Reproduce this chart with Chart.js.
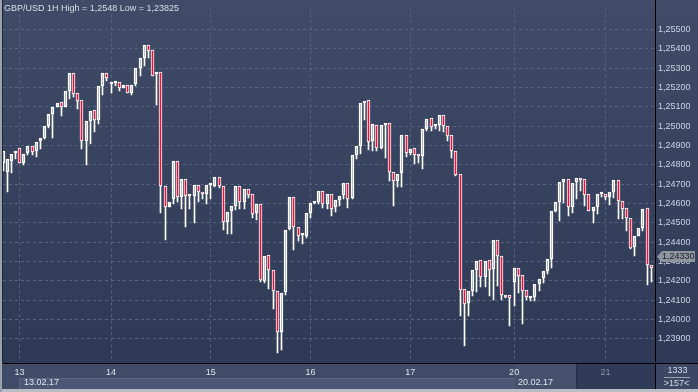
<!DOCTYPE html>
<html>
<head>
<meta charset="utf-8">
<script src="https://cdn.jsdelivr.net/npm/chart.js@4.4.0/dist/chart.umd.min.js"></script>
<style>
html, body { margin: 0; padding: 0; background: #2d3954; }
#wrap { width: 698px; height: 392px; }
</style>
</head>
<body>
<div id="wrap"><canvas id="myChart" width="698" height="392"></canvas></div>
<script>
// GBP/USD hourly candles
var opens = [
  1.2481, 1.24765, 1.2482, 1.2486, 1.2489, 1.2481, 1.2486, 1.2490, 1.2487, 1.24925,
  1.2494, 1.2500, 1.25065, 1.2510, 1.25125, 1.2510, 1.25185, 1.25275, 1.2517, 1.25135,
  1.24925, 1.25025, 1.25085, 1.25035, 1.2521, 1.25275, 1.2522, 1.25225, 1.2523, 1.2520,
  1.25215, 1.2517, 1.2522, 1.2530, 1.25355, 1.2542, 1.25395, 1.2527, 1.2528, 1.2469,
  1.2458, 1.24625, 1.2482, 1.24635, 1.24725, 1.2464, 1.2464, 1.24695, 1.2466, 1.2465,
  1.24695, 1.2469, 1.2474, 1.24689, 1.24507, 1.2456, 1.2459, 1.2469, 1.2461, 1.24675,
  1.2465, 1.2455, 1.2460, 1.2420, 1.24335, 1.24255, 1.2415, 1.23935, 1.24142, 1.24468,
  1.24635, 1.2448, 1.24435, 1.24432, 1.2455, 1.24603, 1.2461, 1.24665, 1.2460, 1.24652,
  1.24581, 1.24618, 1.24643, 1.24707, 1.24627, 1.24849, 1.24896, 1.2512, 1.25137, 1.24925,
  1.25009, 1.24888, 1.25005, 1.25019, 1.24761, 1.24719, 1.24756, 1.24955, 1.24861, 1.24888,
  1.24857, 1.24845, 1.24985, 1.25044, 1.25001, 1.25009, 1.25058, 1.25004, 1.24954, 1.24873,
  1.24755, 1.2416, 1.24085, 1.2415, 1.24256, 1.24307, 1.2422, 1.24307, 1.24261, 1.24414,
  1.24329, 1.24125, 1.24125, 1.24194, 1.24268, 1.24229, 1.24155, 1.24113, 1.24118, 1.24182,
  1.24214, 1.24251, 1.24312, 1.2456, 1.24606, 1.24712, 1.24729, 1.24582, 1.24712, 1.24734,
  1.24729, 1.24648, 1.2456, 1.2458, 1.24649, 1.2465, 1.24633, 1.24662, 1.24724, 1.24614,
  1.24575, 1.24523, 1.24377, 1.24432, 1.24473, 1.24578, 1.2428
];
var highs = [
  1.2494, 1.2484, 1.2489, 1.2490, 1.2490, 1.24945, 1.2492, 1.2493, 1.24925, 1.24965,
  1.2502, 1.25135, 1.2525, 1.2540, 1.2519, 1.2524, 1.2531, 1.2539, 1.25245, 1.2514,
  1.2503, 1.2513, 1.2512, 1.2521, 1.2532, 1.2532, 1.25295, 1.2526, 1.2527, 1.2528,
  1.2525, 1.2523, 1.25305, 1.2539, 1.2548, 1.2547, 1.2541, 1.2536, 1.25325, 1.24805,
  1.2476, 1.2491, 1.2488, 1.2476, 1.2486, 1.2477, 1.2475, 1.2475, 1.2474, 1.2472,
  1.2472, 1.2476, 1.2475, 1.2469, 1.24583, 1.2460, 1.2471, 1.2471, 1.2469, 1.2469,
  1.2465, 1.24637, 1.24642, 1.24364, 1.24355, 1.24266, 1.2415, 1.2443, 1.2466, 1.24805,
  1.2464, 1.24533, 1.2449, 1.2460, 1.24617, 1.24642, 1.24695, 1.24685, 1.2468, 1.24706,
  1.24643, 1.24664, 1.24728, 1.24728, 1.24879, 1.24918, 1.25187, 1.25233, 1.25148, 1.25086,
  1.25177, 1.25073, 1.25064, 1.25019, 1.24812, 1.24773, 1.25005, 1.25009, 1.2491, 1.24946,
  1.24879, 1.25005, 1.25101, 1.25056, 1.2506, 1.2508, 1.25065, 1.25041, 1.24974, 1.24984,
  1.24772, 1.2418, 1.2420, 1.2429, 1.2432, 1.24366, 1.24352, 1.24366, 1.2450, 1.24441,
  1.24349, 1.2424, 1.24228, 1.24399, 1.2429, 1.2424, 1.24172, 1.24145, 1.24199, 1.24215,
  1.24273, 1.24386, 1.24572, 1.24819, 1.24717, 1.24754, 1.24735, 1.24721, 1.2478, 1.24763,
  1.24746, 1.24653, 1.24602, 1.24662, 1.24667, 1.24667, 1.2467, 1.24741, 1.24808, 1.24614,
  1.24594, 1.24526, 1.24437, 1.24473, 1.24584, 1.24584, 1.24346
];
var lows = [
  1.2477, 1.2466, 1.2476, 1.2483, 1.2481, 1.2480, 1.2485, 1.2485, 1.2484, 1.2488,
  1.24935, 1.2499, 1.2494, 1.2510, 1.25055, 1.2510, 1.2514, 1.2515, 1.2509, 1.2488,
  1.2480, 1.2491, 1.2497, 1.2501, 1.2516, 1.25235, 1.2517, 1.2521, 1.2518, 1.2520,
  1.2517, 1.2516, 1.2521, 1.2526, 1.2531, 1.25355, 1.2526, 1.2511, 1.2455, 1.2441,
  1.24598, 1.2460, 1.2461, 1.2457, 1.2448, 1.2457, 1.2450, 1.2461, 1.24625, 1.2460,
  1.24625, 1.24685, 1.2468, 1.24465, 1.24445, 1.24445, 1.24566, 1.2457, 1.2457, 1.2463,
  1.24524, 1.24516, 1.24192, 1.2419, 1.24157, 1.24056, 1.23825, 1.2384, 1.24128, 1.24465,
  1.2436, 1.24406, 1.2439, 1.2442, 1.24524, 1.24598, 1.2460, 1.24575, 1.24573, 1.24537,
  1.24556, 1.24588, 1.24622, 1.24576, 1.24623, 1.24829, 1.24857, 1.25031, 1.24879, 1.24874,
  1.24874, 1.2488, 1.24837, 1.24716, 1.24588, 1.24686, 1.24686, 1.2484, 1.24849, 1.24807,
  1.24808, 1.24778, 1.24975, 1.24975, 1.24984, 1.24976, 1.24971, 1.24924, 1.24836, 1.24744,
  1.24016, 1.23865, 1.24016, 1.24122, 1.24144, 1.24167, 1.24167, 1.24122, 1.24101, 1.24173,
  1.2410, 1.24113, 1.23966, 1.24072, 1.24139, 1.23975, 1.2410, 1.24095, 1.24097, 1.2415,
  1.24189, 1.24234, 1.24265, 1.24555, 1.2451, 1.24602, 1.24535, 1.24552, 1.24624, 1.24667,
  1.2459, 1.2456, 1.24501, 1.24547, 1.24636, 1.24616, 1.24594, 1.24628, 1.24521, 1.24518,
  1.24459, 1.24366, 1.24331, 1.24432, 1.24457, 1.2418, 1.24195
];
var closes = [
  1.2487, 1.2483, 1.24855, 1.2487, 1.2481, 1.24855, 1.2490, 1.24865, 1.2492, 1.2494,
  1.2500, 1.25065, 1.2510, 1.2512, 1.2510, 1.2518, 1.25275, 1.25165, 1.2513, 1.24925,
  1.25025, 1.2508, 1.25035, 1.2521, 1.25275, 1.2525, 1.2523, 1.2523, 1.2520, 1.25215,
  1.2517, 1.25215, 1.2530, 1.25355, 1.2542, 1.2539, 1.2526, 1.2528, 1.2469, 1.2458,
  1.2461, 1.2482, 1.24635, 1.24725, 1.2464, 1.24645, 1.24695, 1.2466, 1.2465, 1.24695,
  1.2470, 1.2474, 1.2469, 1.24507, 1.24558, 1.2459, 1.2469, 1.2461, 1.24675, 1.24645,
  1.24548, 1.2460, 1.24202, 1.2433, 1.24255, 1.24148, 1.23935, 1.24137, 1.24465, 1.24635,
  1.2448, 1.24432, 1.2444, 1.2455, 1.24603, 1.2461, 1.24665, 1.2460, 1.24652, 1.24573,
  1.24618, 1.2464, 1.24707, 1.24623, 1.24849, 1.24896, 1.2512, 1.25132, 1.24921, 1.25014,
  1.24888, 1.25009, 1.25014, 1.24761, 1.24719, 1.24753, 1.24955, 1.24862, 1.24882, 1.2485,
  1.24845, 1.24985, 1.25039, 1.24997, 1.25009, 1.25058, 1.25001, 1.2495, 1.2487, 1.24747,
  1.24154, 1.2408, 1.2415, 1.24256, 1.24302, 1.2422, 1.24302, 1.24256, 1.24414, 1.24329,
  1.24125, 1.24117, 1.24113, 1.24268, 1.24223, 1.2415, 1.24118, 1.24118, 1.24182, 1.24208,
  1.24251, 1.24312, 1.2456, 1.24606, 1.24712, 1.24729, 1.24582, 1.24707, 1.24734, 1.24724,
  1.24645, 1.2456, 1.2458, 1.24649, 1.24652, 1.24633, 1.24662, 1.24724, 1.24611, 1.24572,
  1.24526, 1.24371, 1.24432, 1.24473, 1.24574, 1.2428, 1.24265
];

// day boundaries (candle index) and their labels
var dayStarts = [4, 26, 50, 74, 98, 123, 145];
var dayLabels = ['13', '14', '15', '16', '17', '20', '21'];
var dateLabels = ['13.02.17', '20.02.17'];
var priceTicks = [1.239, 1.240, 1.241, 1.242, 1.243, 1.244, 1.245, 1.246, 1.247,
                  1.248, 1.249, 1.250, 1.251, 1.252, 1.253, 1.254, 1.255];
var lastPrice = 1.2433;
var title = 'GBP/USD 1H High = 1,2548 Low = 1,23825';

var FONT = "'Liberation Sans', Arial, sans-serif";
var RED = '#e3163f';

var bodies = [], upperWicks = [], lowerWicks = [], bodyColors = [];
for (var i = 0; i < opens.length; i++) {
  var top = Math.max(opens[i], closes[i]);
  var bot = Math.min(opens[i], closes[i]);
  bodies.push({ x: i, y: [opens[i], closes[i]] });
  upperWicks.push({ x: i, y: [top, highs[i]] });
  lowerWicks.push({ x: i, y: [lows[i], bot] });
  bodyColors.push(closes[i] < opens[i] ? RED : 'rgba(0,0,0,0)');
}

// snap candle elements onto whole pixels so they stay crisp
var snap = {
  id: 'snap',
  beforeDatasetsDraw: function (chart) {
    chart.data.datasets.forEach(function (ds, k) {
      chart.getDatasetMeta(k).data.forEach(function (el) {
        el.x = Math.round(el.x - 0.5) + 0.5;
        el.y = Math.round(el.y);
        el.base = Math.round(el.base);
      });
    });
  }
};

var frame = {
  id: 'frame',
  beforeDraw: function (chart) {
    var c = chart.ctx;
    c.save();
    var g = c.createLinearGradient(0, 0, 0, 363);
    g.addColorStop(0, '#3f4b67');
    g.addColorStop(1, '#2d3955');
    c.fillStyle = g;
    c.fillRect(0, 0, 698, 363);
    // time axis strip
    c.fillStyle = '#3f4b67';
    c.fillRect(0, 363, 698, 29);
    c.fillStyle = '#4b5774';
    c.fillRect(19, 378, 496, 11);
    c.fillStyle = '#5a6682';
    c.fillRect(19, 378, 496, 1);
    c.fillRect(19, 378, 1, 11);
    c.fillStyle = '#45516d';
    c.fillRect(515, 364, 62, 25);
    c.fillStyle = '#2f3a56';
    c.fillRect(577, 364, 78, 25);
    c.fillStyle = '#262f47';
    c.fillRect(576, 364, 1, 25);
    c.fillStyle = '#3b4763';
    c.fillRect(656, 364, 42, 25);
    c.restore();
  },
  afterDraw: function (chart) {
    var c = chart.ctx;
    var ys = chart.scales.y;
    c.save();
    // frame lines
    c.fillStyle = '#000000';
    c.fillRect(3, 363, 695, 1);
    c.fillRect(655, 0, 1, 389);
    c.fillStyle = '#b9bec6';
    c.fillRect(0, 389, 698, 3);
    c.fillStyle = '#9ba2ae';
    c.fillRect(0, 0, 2, 392);
    c.fillStyle = '#1d2537';
    c.fillRect(2, 0, 1, 363);

    c.font = '9px ' + FONT;
    c.textBaseline = 'middle';
    // title
    c.fillStyle = '#d9dee6';
    c.textAlign = 'left';
    c.fillText(title, 4, 8.5);
    // dates
    c.fillStyle = '#e2e6ec';
    c.fillText(dateLabels[0], 24, 383);
    c.fillText(dateLabels[1], 518, 383);
    // bars counter
    c.textAlign = 'center';
    c.fillStyle = '#d5dbe4';
    c.fillText('1333', 677.5, 370.5);
    c.fillText('>157<', 676.5, 383.5);
    c.fillStyle = '#9aa3b2';
    c.fillRect(664, 377, 26, 1);

    // last price marker
    var py = Math.round(ys.getPixelForValue(lastPrice)) + 0.5;
    c.fillStyle = '#8f959e';
    c.beginPath();
    c.moveTo(657, py);
    c.lineTo(662, py - 5.5);
    c.lineTo(695, py - 5.5);
    c.lineTo(695, py + 5.5);
    c.lineTo(662, py + 5.5);
    c.closePath();
    c.fill();
    c.fillStyle = '#1b202b';
    c.textAlign = 'left';
    c.fillText(lastPrice.toFixed(5).replace('.', ','), 662, py + 0.5);
    c.restore();
  }
};

var ctx = document.getElementById('myChart').getContext('2d');
var myChart = new Chart(ctx, {
  type: 'bar',
  data: {
    datasets: [{
      label: 'body',
      data: bodies,
      backgroundColor: bodyColors,
      borderColor: '#ffffff',
      borderWidth: 1,
      borderSkipped: false,
      barThickness: 3,
      minBarLength: 2,
      grouped: false
    }, {
      label: 'upper',
      data: upperWicks,
      backgroundColor: '#ffffff',
      borderWidth: 0,
      barThickness: 1,
      grouped: false
    }, {
      label: 'lower',
      data: lowerWicks,
      backgroundColor: '#ffffff',
      borderWidth: 0,
      barThickness: 1,
      grouped: false
    }]
  },
  options: {
    responsive: false,
    animation: false,
    events: [],
    layout: { padding: { left: 3, top: 0, right: 0, bottom: 0 } },
    plugins: {
      legend: { display: false },
      tooltip: { enabled: false }
    },
    scales: {
      x: {
        type: 'linear',
        min: 0,
        max: 156.9,
        offset: false,
        afterBuildTicks: function (s) {
          s.ticks = dayStarts.map(function (v) { return { value: v }; });
        },
        afterFit: function (s) { s.height = 29; },
        grid: { color: '#56647f', drawTicks: false, offset: false },
        border: { display: false, dash: [3, 3] },
        ticks: {
          autoSkip: false,
          maxRotation: 0,
          padding: 4,
          font: { family: FONT, size: 9 },
          color: function (c) { return c.tick && c.tick.value === 145 ? '#8a95aa' : '#dce2eb'; },
          callback: function (v) {
            var k = dayStarts.indexOf(v);
            return k >= 0 ? dayLabels[k] : '';
          }
        }
      },
      y: {
        position: 'right',
        min: 1.23775,
        max: 1.2561,
        afterBuildTicks: function (s) {
          s.ticks = priceTicks.map(function (v) { return { value: v }; });
        },
        afterFit: function (s) { s.width = 43; },
        grid: { color: '#56647f', drawTicks: false },
        border: { display: false, dash: [3, 3] },
        ticks: {
          padding: 3,
          font: { family: FONT, size: 9 },
          color: '#c9d3e3',
          callback: function (v) { return v.toFixed(5).replace('.', ','); }
        }
      }
    }
  },
  plugins: [snap, frame]
});
</script>
</body>
</html>
